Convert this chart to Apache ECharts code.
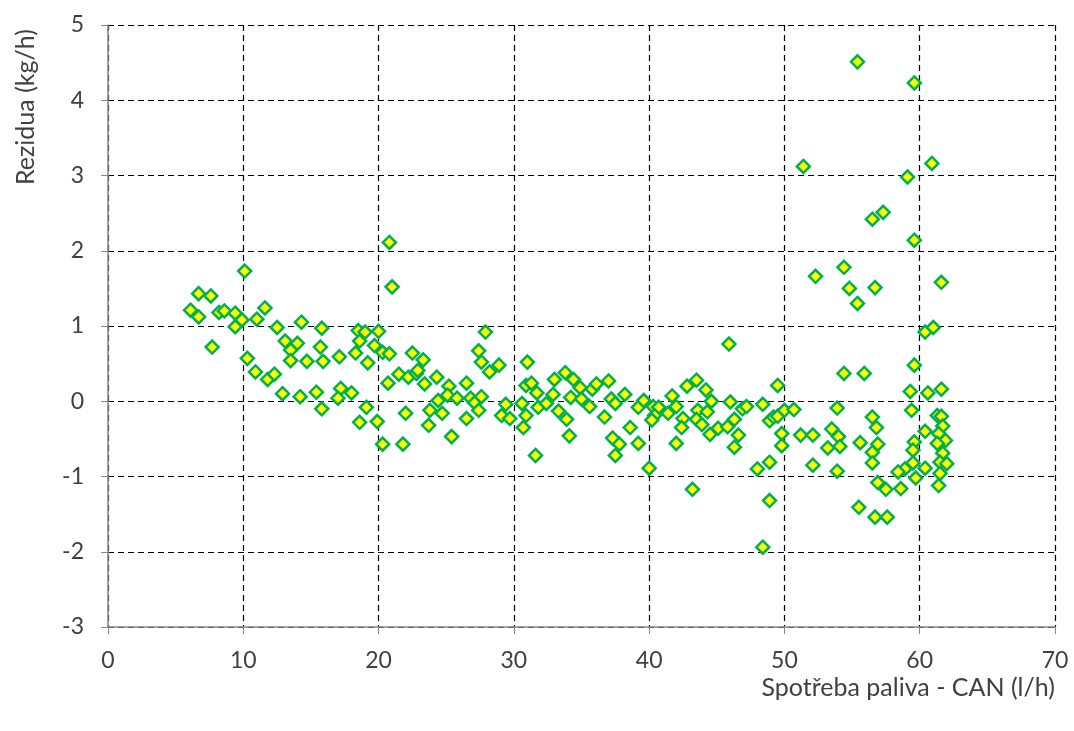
<!DOCTYPE html>
<html>
<head>
<meta charset="utf-8">
<script src="https://cdn.jsdelivr.net/npm/echarts@6/dist/echarts.min.js"></script>
<style>
  html, body { margin: 0; padding: 0; background: #fff; }
  #chart { width: 1074px; height: 731px; }
</style>
</head>
<body>
<div id="chart"></div>
<script>
// Spotřeba paliva - CAN (l/h)
const fuelUse = [
  20.8, 10.1, 21.0, 6.7, 7.6, 6.1, 6.7, 8.2, 8.6, 9.4, 9.4, 9.9, 11.0, 11.6, 7.7, 12.5,
  14.3, 15.8, 13.1, 13.5, 14.0, 15.7, 13.5, 14.7, 15.9, 10.3, 10.9, 11.8, 12.3, 12.9, 14.2, 15.4,
  15.8, 17.1, 17.2, 17.0, 18.0, 18.3, 18.5, 19.0, 20.0, 18.6, 19.7, 20.3, 20.8, 19.2, 20.7, 21.5,
  22.2, 22.5, 22.8, 19.1, 18.6, 19.9, 20.3, 21.8, 22.0,
  27.9, 27.4, 27.6, 28.2, 28.9, 23.3, 22.9, 23.4, 24.3, 25.2, 26.5, 24.4, 25.1, 25.8, 26.8, 27.1,
  27.6, 23.8, 24.7, 23.7, 26.5, 27.4, 25.4, 29.4, 29.1, 29.7, 31.0, 30.9, 31.3, 30.6, 30.9, 30.7,
  31.7, 31.8, 32.4, 32.9, 33.0, 33.8, 34.4, 34.9, 34.2, 35.0, 33.3, 33.9, 31.6, 34.1, 35.6, 35.8,
  36.1, 37.0, 37.2, 37.5, 38.2, 36.7, 39.2, 39.6, 38.6, 37.3, 37.8, 37.5, 39.2, 40.0,
  45.9, 42.8, 43.5, 44.2, 44.6, 40.3, 40.7, 40.4, 40.2, 41.7, 42.0, 41.4, 42.5, 42.4, 43.6, 43.5,
  44.3, 43.9, 44.5, 45.1, 45.8, 46.0, 46.3, 46.6, 46.3, 46.9, 47.2, 48.4, 42.0, 43.2, 48.9, 49.2,
  49.5, 50.0, 49.5, 50.7, 49.8, 49.8, 48.9, 48.0, 48.9, 48.4, 51.2, 52.1, 52.1, 54.4, 53.9, 53.5,
  54.0, 53.2, 54.1, 53.9,
  55.4, 59.6, 51.4, 60.9, 59.1, 57.3, 56.5, 59.6, 52.3, 54.4, 54.8, 56.7, 61.6, 55.4,
  60.4, 61.0, 59.6, 55.9, 59.3, 60.6, 61.6, 59.4, 56.5, 56.8, 55.6, 56.9, 56.5, 56.5, 60.4, 59.6,
  59.5, 59.5, 58.9, 58.4, 60.4, 59.7, 56.9, 57.5, 58.6, 55.5, 56.7, 57.6,
  61.3, 61.6, 61.7, 61.4, 61.9, 61.3, 61.7, 61.5, 62.0, 61.5, 61.4
];
// Rezidua (kg/h)
const residuals = [
  2.11, 1.73, 1.52, 1.43, 1.40, 1.21, 1.12, 1.18, 1.20, 1.17, 0.99, 1.08, 1.09, 1.24, 0.72, 0.98,
  1.05, 0.97, 0.80, 0.68, 0.77, 0.72, 0.54, 0.53, 0.53, 0.57, 0.39, 0.29, 0.36, 0.10, 0.06, 0.12,
  -0.10, 0.59, 0.17, 0.04, 0.11, 0.64, 0.94, 0.92, 0.93, 0.80, 0.74, 0.65, 0.63, 0.51, 0.24, 0.36,
  0.32, 0.64, 0.37, -0.08, -0.28, -0.27, -0.57, -0.57, -0.16,
  0.92, 0.67, 0.52, 0.39, 0.48, 0.55, 0.41, 0.23, 0.32, 0.20, 0.24, 0.01, 0.08, 0.04, 0.04, -0.02,
  0.06, -0.12, -0.16, -0.32, -0.23, -0.12, -0.47, -0.04, -0.19, -0.23, 0.52, 0.21, 0.24, -0.03, -0.19, -0.35,
  0.11, -0.08, -0.03, 0.09, 0.29, 0.38, 0.29, 0.18, 0.05, 0.03, -0.13, -0.24, -0.72, -0.46, -0.07, 0.16,
  0.23, 0.27, 0.03, -0.03, 0.09, -0.21, -0.08, 0.01, -0.35, -0.49, -0.57, -0.72, -0.56, -0.89,
  0.76, 0.20, 0.28, 0.15, 0.00, -0.07, -0.08, -0.19, -0.25, 0.07, -0.07, -0.16, -0.23, -0.35, -0.12, -0.24,
  -0.14, -0.31, -0.44, -0.36, -0.34, -0.01, -0.24, -0.45, -0.61, -0.10, -0.07, -0.04, -0.56, -1.17, -0.26, -0.21,
  -0.20, -0.12, 0.21, -0.11, -0.43, -0.59, -0.81, -0.90, -1.32, -1.94, -0.45, -0.45, -0.85, 0.37, -0.09, -0.37,
  -0.47, -0.62, -0.60, -0.93,
  4.51, 4.23, 3.12, 3.16, 2.98, 2.51, 2.42, 2.14, 1.66, 1.78, 1.50, 1.51, 1.58, 1.30,
  0.92, 0.98, 0.48, 0.37, 0.13, 0.11, 0.16, -0.12, -0.21, -0.35, -0.55, -0.57, -0.68, -0.82, -0.40, -0.54,
  -0.65, -0.82, -0.90, -0.94, -0.89, -1.02, -1.08, -1.17, -1.16, -1.41, -1.54, -1.54,
  -0.19, -0.20, -0.33, -0.43, -0.52, -0.56, -0.69, -0.81, -0.83, -0.96, -1.12
];

const xTicks = [0, 10, 20, 30, 40, 50, 60, 70];
const yTicks = [-3, -2, -1, 0, 1, 2, 3, 4, 5];

const points = fuelUse.map(function (x, i) { return [x, residuals[i]]; });

const chart = echarts.init(document.getElementById('chart'), null, { renderer: 'canvas' });

const textColor = '#404040';
const fontFamily = 'Lato, "Open Sans", sans-serif';
const fontSize = 23;
const nameSize = 25;

const option = {
  animation: false,
  backgroundColor: '#fff',
  grid: {
    left: 108,
    right: 19,
    top: 25,
    bottom: 104
  },
  xAxis: {
    type: 'value',
    min: xTicks[0],
    max: xTicks[xTicks.length - 1],
    interval: 10,
    axisLine: { onZero: false, lineStyle: { color: '#868686', width: 1.5 } },
    axisTick: { show: true, length: 7, lineStyle: { color: '#868686' } },
    axisLabel: { color: textColor, fontSize: fontSize, fontFamily: fontFamily, margin: 22 },
    splitLine: { show: true, lineStyle: { color: '#000', type: [6, 4], width: 1.2 } }
  },
  yAxis: {
    type: 'value',
    min: yTicks[0],
    max: yTicks[yTicks.length - 1],
    interval: 1,
    axisLine: { show: true, onZero: false, lineStyle: { color: '#868686', width: 1.5 } },
    axisTick: { show: true, length: 7, lineStyle: { color: '#868686' } },
    axisLabel: { color: textColor, fontSize: fontSize, fontFamily: fontFamily, margin: 24 },
    splitLine: { show: true, lineStyle: { color: '#000', type: [6, 4], width: 1.2 } }
  },
  graphic: [
    {
      type: 'text',
      x: 26,
      y: 107,
      rotation: Math.PI / 2,
      style: {
        text: 'Rezidua (kg/h)',
        fill: textColor,
        font: nameSize + 'px ' + fontFamily,
        textAlign: 'center',
        textVerticalAlign: 'middle'
      }
    },
    {
      type: 'text',
      x: 1055,
      y: 688,
      style: {
        text: 'Spotřeba paliva - CAN (l/h)',
        fill: textColor,
        font: nameSize + 'px ' + fontFamily,
        textAlign: 'right',
        textVerticalAlign: 'middle'
      }
    }
  ],
  series: [
    {
      type: 'scatter',
      symbol: 'diamond',
      symbolSize: 13,
      data: points,
      itemStyle: {
        color: '#FFFF00',
        borderColor: '#00B050',
        borderWidth: 2.5,
        opacity: 1
      }
    }
  ]
};

chart.setOption(option);
</script>
</body>
</html>
